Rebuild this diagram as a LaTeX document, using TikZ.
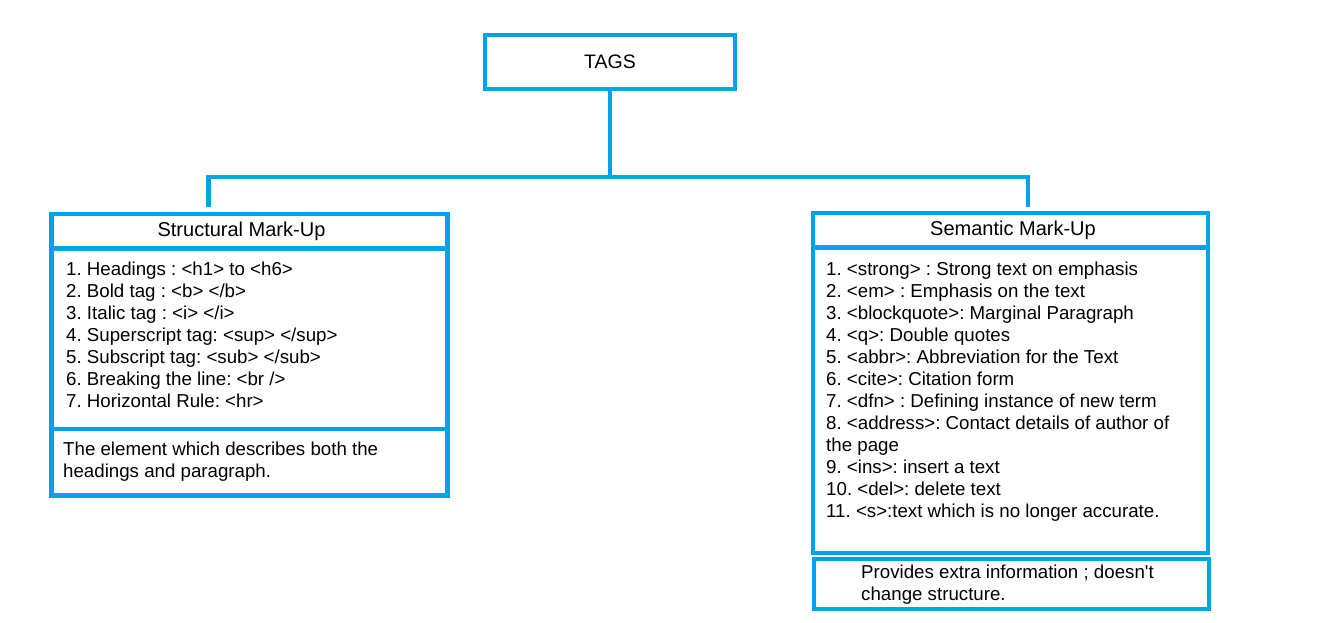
\documentclass[tikz,border=0pt]{standalone}
\usepackage{fontspec}
\setmainfont{Liberation Sans}
\definecolor{pblue}{RGB}{0,162,232}
\frenchspacing
\begin{document}
\begin{tikzpicture}[x=1pt,y=-1pt,
  frame/.style={draw=pblue,line width=4.5pt,rectangle,inner sep=0pt},
  conn/.style={draw=pblue,line width=4.5pt},
  body/.style={inner sep=0pt,anchor=north west,align=left,font=\frenchspacing\fontsize{18.7}{22}\selectfont},
  head/.style={font=\fontsize{20}{24}\selectfont}]
\useasboundingbox[fill=white] (0,0) rectangle (1335,623);
% root
\node[frame,minimum width=250pt,minimum height=54pt,font=\fontsize{19.5}{23}\selectfont] (tags) at (610,62) {TAGS};
% left group
\node[frame,minimum width=396pt,minimum height=34.5pt,head] (lhead) at (249.5,231.25) {\hspace*{-16pt}Structural Mark-Up};
\node[frame,minimum width=396pt,minimum height=180.5pt] (llist) at (249.5,338.75) {};
\node[frame,minimum width=396pt,minimum height=66.5pt] (lfoot) at (249.5,462.25) {};
% right group
\node[frame,minimum width=395pt,minimum height=34.5pt,head] (rhead) at (1010.5,230.25) {\hspace*{5pt}Semantic Mark-Up};
\node[frame,minimum width=395pt,minimum height=305.5pt] (rlist) at (1010.5,400.25) {};
\node[frame,minimum width=395pt,minimum height=50pt] (rfoot) at (1011.5,584) {};
% texts
\node[body] (ltext) at (66,261.5) {1. Headings : <h1> to <h6>\\2. Bold tag : <b> </b>\\3. Italic tag : <i> </i>\\4. Superscript tag: <sup> </sup>\\5. Subscript tag: <sub> </sub>\\6. Breaking the line: <br />\\7. Horizontal Rule: <hr>};
\node[body] (lftext) at (63,441.5) {The element which describes both the\\headings and paragraph.};
\node[body] (rtext) at (826,261.5) {1. <strong> : Strong text on emphasis\\2. <em> : Emphasis on the text\\3. <blockquote>: Marginal Paragraph\\4. <q>: Double quotes\\5. <abbr>: Abbreviation for the Text\\6. <cite>: Citation form\\7. <dfn> : Defining instance of new term\\8. <address>: Contact details of author of\\the page\\9. <ins>: insert a text\\10. <del>: delete text\\11. <s>:text which is no longer accurate.};
\node[body] (rftext) at (861,565) {Provides extra information ; doesn\textquotesingle t\\change structure.};
% connectors
\coordinate (j) at (610,177);
\coordinate (lend) at (208.5,207);
\coordinate (rend) at (1028,207);
\draw[conn] (tags.south) -- (j);
\draw[conn] (lend) |- (j) -| (rend);
\end{tikzpicture}
\end{document}
